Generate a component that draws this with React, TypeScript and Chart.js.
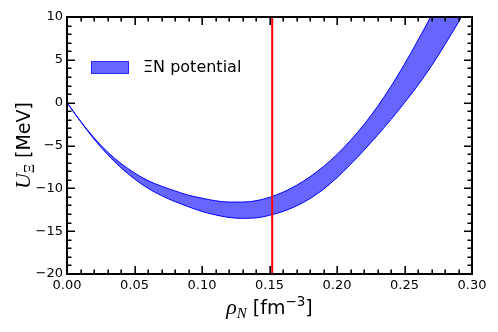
import React, { useEffect, useRef } from "react";
import { Chart, registerables } from "chart.js";

Chart.register(...registerables);

// nucleon density rho_N [fm^-3]
const rho = [
  0.0, 0.01, 0.02, 0.03, 0.04, 0.05, 0.06, 0.07, 0.08, 0.09, 0.1,
  0.11, 0.12, 0.13, 0.14, 0.15, 0.16, 0.17, 0.18, 0.19, 0.2,
  0.21, 0.22, 0.23, 0.24, 0.25, 0.26, 0.27, 0.28, 0.29, 0.3,
];
// upper edge of the XiN potential band [MeV]
const upperU = [
  0.0, -2.15, -4.1, -5.75, -7.1, -8.2, -9.1, -9.75, -10.3, -10.8, -11.15,
  -11.45, -11.6, -11.6, -11.45, -11.05, -10.45, -9.65, -8.65, -7.45, -6.05,
  -4.4, -2.55, -0.45, 1.9, 4.5, 7.3, 10.2, 13.3, 16.6, 20.0,
];
// lower edge of the XiN potential band [MeV]
const lowerU = [
  0.0, -2.2, -4.25, -6.05, -7.6, -8.9, -10.0, -10.85, -11.55, -12.15, -12.7,
  -13.1, -13.4, -13.5, -13.45, -13.15, -12.7, -12.05, -11.2, -10.1, -8.75,
  -7.2, -5.55, -3.8, -1.95, -0.0, 2.05, 4.3, 6.8, 9.4, 12.1,
];
const saturationRho = [0.152, 0.152];
const saturationU = [-20, 10];
const xRange = [0, 0.3];
const yRange = [-20, 10];
const legendLabel = "ΞN potential";

const fmtY = (v: number) => (v < 0 ? "\u2212" + Math.abs(v) : String(v));

const decorPlugin = {
  id: "decor",
  afterDraw(chart: any) {
    const ctx = chart.ctx as CanvasRenderingContext2D;
    const ca = chart.chartArea;
    const xs = chart.scales.x;
    const ys = chart.scales.y;
    ctx.save();
    // inward ticks on all four sides
    ctx.strokeStyle = "#000";
    ctx.lineWidth = 1.6;
    ctx.beginPath();
    for (let i = 0; i <= 30; i++) {
      const px = Math.round(xs.getPixelForValue(i * 0.01)) + 0.2;
      const len = i % 5 === 0 ? 8 : 4.5;
      ctx.moveTo(px, ca.bottom);
      ctx.lineTo(px, ca.bottom - len);
      ctx.moveTo(px, ca.top);
      ctx.lineTo(px, ca.top + len);
    }
    for (let v = yRange[0]; v <= yRange[1]; v++) {
      const py = Math.round(ys.getPixelForValue(v)) + 0.2;
      const len = v % 5 === 0 ? 8 : 4.5;
      ctx.moveTo(ca.left, py);
      ctx.lineTo(ca.left + len, py);
      ctx.moveTo(ca.right, py);
      ctx.lineTo(ca.right - len, py);
    }
    ctx.stroke();
    // frame
    ctx.lineWidth = 2;
    ctx.strokeRect(ca.left, ca.top, ca.right - ca.left, ca.bottom - ca.top);

    // legend
    ctx.fillStyle = "rgba(0,0,255,0.6)";
    ctx.fillRect(91, 61, 38, 13);
    ctx.strokeStyle = "rgba(0,0,255,0.6)";
    ctx.lineWidth = 1;
    ctx.strokeRect(91.5, 61.5, 37, 12);
    ctx.fillStyle = "#000";
    ctx.font = '16px "DejaVu Sans"';
    ctx.textBaseline = "middle";
    ctx.textAlign = "left";
    ctx.fillText(legendLabel, 143, 68);

    // x axis title: rho_N [fm^-3]
    ctx.textBaseline = "alphabetic";
    const mainSerif = 'italic 22px "Liberation Serif"';
    const subSerif = 'italic 15px "Liberation Serif"';
    const sans = '19px "DejaVu Sans"';
    const supSans = '13.5px "DejaVu Sans"';
    const parts = [
      { t: "ρ", f: mainSerif, dy: 0 },
      { t: "N", f: subSerif, dy: 4 },
      { t: " [fm", f: sans, dy: 0 },
      { t: "\u22123", f: supSans, dy: -8 },
      { t: "]", f: sans, dy: 0 },
    ];
    let total = 0;
    for (const p of parts) {
      ctx.font = p.f;
      total += ctx.measureText(p.t).width;
    }
    let x0 = (ca.left + ca.right) / 2 - total / 2;
    const xb = 314;
    for (const p of parts) {
      ctx.font = p.f;
      ctx.fillText(p.t, x0, xb + p.dy);
      x0 += ctx.measureText(p.t).width;
    }

    // y axis title: U_Xi [MeV]
    const yparts = [
      { t: "U", f: 'italic 22px "Liberation Serif"', dy: 0 },
      { t: "Ξ", f: '14px "Liberation Serif"', dy: 4 },
      { t: " [MeV]", f: sans, dy: 0 },
    ];
    let ytotal = 0;
    for (const p of yparts) {
      ctx.font = p.f;
      ytotal += ctx.measureText(p.t).width;
    }
    ctx.translate(30, (ca.top + ca.bottom) / 2);
    ctx.rotate(-Math.PI / 2);
    let y0 = -ytotal / 2;
    for (const p of yparts) {
      ctx.font = p.f;
      ctx.fillText(p.t, y0, p.dy);
      y0 += ctx.measureText(p.t).width;
    }
    ctx.restore();
  },
};

export default function App() {
  const ref = useRef<HTMLCanvasElement | null>(null);
  useEffect(() => {
    document.body.style.margin = "0";
    const canvas = ref.current!;
    const chart = new Chart(canvas, {
      type: "line",
      data: {
        datasets: [
          {
            label: "saturation",
            data: saturationRho.map((x, i) => ({ x, y: saturationU[i] })),
            borderColor: "#ff0000",
            borderWidth: 2,
            pointRadius: 0,
            fill: false,
            order: 0,
          },
          {
            label: "lower",
            data: rho.map((x, i) => ({ x, y: lowerU[i] })),
            borderColor: "#0000ff",
            borderWidth: 1,
            pointRadius: 0,
            fill: false,
            cubicInterpolationMode: "monotone",
            order: 2,
          },
          {
            label: legendLabel,
            data: rho.map((x, i) => ({ x, y: upperU[i] })),
            borderColor: "#0000ff",
            borderWidth: 1,
            pointRadius: 0,
            backgroundColor: "rgba(0,0,255,0.6)",
            fill: { target: 1 },
            cubicInterpolationMode: "monotone",
            order: 1,
          },
        ],
      },
      options: {
        responsive: false,
        animation: false,
        events: [],
        layout: { padding: { left: 0, top: 17, right: 26, bottom: 0 } },
        plugins: {
          legend: { display: false },
          tooltip: { enabled: false },
        },
        scales: {
          x: {
            type: "linear",
            min: xRange[0],
            max: xRange[1],
            grid: { display: false, drawTicks: false, tickLength: 0 },
            border: { display: false },
            ticks: {
              stepSize: 0.05,
              autoSkip: false,
              maxRotation: 0,
              padding: 4,
              color: "#000",
              font: { family: "DejaVu Sans", size: 13 },
              callback: (v: any) => Number(v).toFixed(2),
            },
            afterFit: (s: any) => {
              s.height = 58;
            },
          },
          y: {
            type: "linear",
            min: yRange[0],
            max: yRange[1],
            grid: { display: false, drawTicks: false, tickLength: 0 },
            border: { display: false },
            ticks: {
              stepSize: 5,
              padding: 4,
              color: "#000",
              font: { family: "DejaVu Sans", size: 13 },
              callback: (v: any) => fmtY(Number(v)),
            },
            afterFit: (s: any) => {
              s.width = 67;
            },
          },
        },
      },
      plugins: [decorPlugin],
    });
    return () => chart.destroy();
  }, []);
  return (
    <canvas
      ref={ref}
      width={498}
      height={332}
      style={{ display: "block", width: 498, height: 332 }}
    />
  );
}
